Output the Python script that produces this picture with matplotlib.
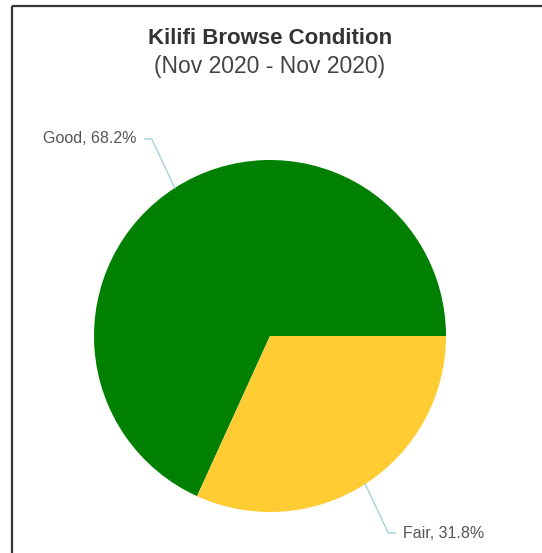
import matplotlib.pyplot as plt
import numpy as np

plt.rcParams['font.family'] = ['Liberation Sans', 'DejaVu Sans']

categories = ['Good', 'Fair']
shares = [68.2, 31.8]
colors = ['#008000', '#ffcc33']

W, H = 542, 553
fig = plt.figure(figsize=(W / 100, H / 100), dpi=100)
ax = fig.add_axes([0, 0, 1, 1])

# frame lines (left and top only visible)
ax.plot([12, 12], [0, H - 6], color='#333333', linewidth=1.6, solid_capstyle='butt')
ax.plot([12, W], [H - 6, H - 6], color='#333333', linewidth=1.6, solid_capstyle='butt')

cx, cy, r = 270, H - 336, 176
start = 360 * shares[0] / 100
wedges, _ = ax.pie(shares, colors=colors, startangle=start, counterclock=False,
                   radius=r, center=(cx, cy), frame=True,
                   wedgeprops=dict(linewidth=0))
ax.set_xlim(0, W)
ax.set_ylim(0, H)
ax.set_aspect('equal')
ax.axis('off')

for w, name, val in zip(wedges, categories, shares):
    mid = np.deg2rad((w.theta1 + w.theta2) / 2)
    ex, ey = cx + r * np.cos(mid), cy + r * np.sin(mid)
    sx = 1 if np.cos(mid) > 0 else -1
    sy = 1 if np.sin(mid) > 0 else -1
    bx, by = ex + 23 * sx, ey + 49 * sy
    hx = bx + 7 * sx
    ax.plot([ex, bx, hx], [ey, by, by], color='#a9cfdc', linewidth=1)
    ax.text(hx + 8 * sx, by, f'{name}, {val}%', ha='left' if sx > 0 else 'right',
            va='center', fontsize=11.5, color='#555555')

fig.text(270 / W, 1 - 44 / H, 'Kilifi Browse Condition', ha='center', va='baseline',
         fontsize=16, fontweight='bold', color='#333333')
fig.text(270 / W, 1 - 73 / H, '(Nov 2020 - Nov 2020)', ha='center', va='baseline',
         fontsize=16.5, color='#444444')

fig.savefig('out.png', dpi=100)
